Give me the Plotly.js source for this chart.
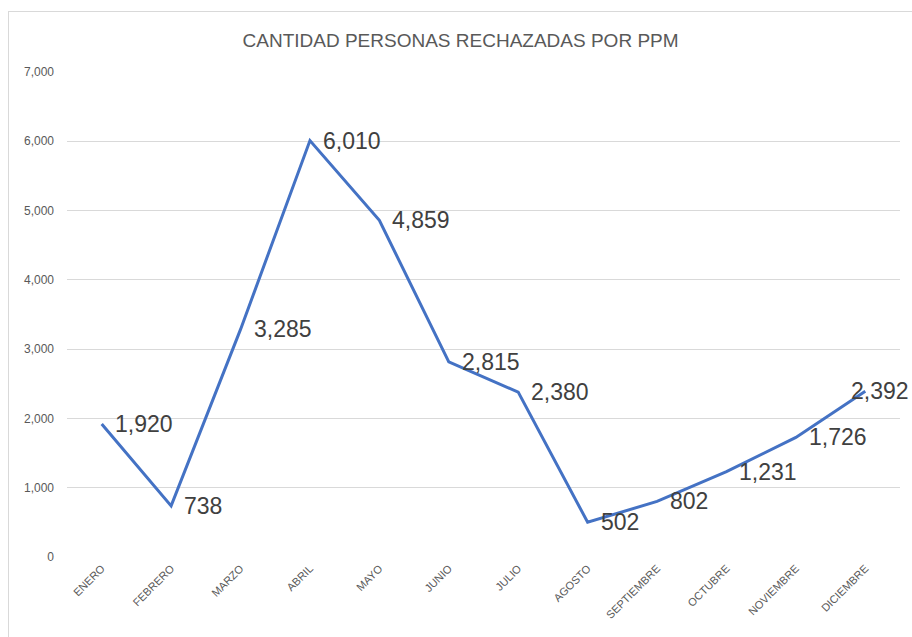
<!DOCTYPE html>
<html>
<head>
<meta charset="utf-8">
<script src="https://cdn.plot.ly/plotly-3.0.1.min.js"></script>
<style>
html,body{margin:0;padding:0;background:#fff;overflow:hidden;}
#frame{position:absolute;left:8px;top:11px;width:930px;height:660px;border:1px solid #d9d9d9;box-sizing:border-box;}
#chart{position:absolute;left:0;top:0;width:912px;height:637px;}
</style>
</head>
<body>
<div id="frame"></div>
<div id="chart"></div>
<script>
const months = ["ENERO","FEBRERO","MARZO","ABRIL","MAYO","JUNIO","JULIO","AGOSTO","SEPTIEMBRE","OCTUBRE","NOVIEMBRE","DICIEMBRE"];
const rejected = [1920, 738, 3285, 6010, 4859, 2815, 2380, 502, 802, 1231, 1726, 2392];
const yTicks = [0, 1000, 2000, 3000, 4000, 5000, 6000, 7000];
const chartTitle = "CANTIDAD PERSONAS RECHAZADAS POR PPM";

const fmt = v => v.toLocaleString("en-US");

const annotations = rejected.map((v, i) => ({
  x: months[i], y: v, xref: "x", yref: "y",
  text: fmt(v), showarrow: false,
  xanchor: "left", yanchor: "middle",
  xshift: i === rejected.length - 1 ? -16 : 11,
  font: {family: "Liberation Sans, Arial, sans-serif", size: 23, color: "#404040"}
}));

const trace = {
  x: months, y: rejected, type: "scatter", mode: "lines",
  line: {color: "#4472C4", width: 3}, hoverinfo: "x+y"
};

const layout = {
  width: 912, height: 637,
  paper_bgcolor: "rgba(0,0,0,0)", plot_bgcolor: "rgba(0,0,0,0)",
  margin: {l: 67, r: 12, t: 72, b: 80},
  showlegend: false,
  title: {text: chartTitle, x: 0.505, xanchor: "center", y: 0.937, yanchor: "middle",
    font: {family: "Liberation Sans Narrow, Arial Narrow, sans-serif", size: 19, color: "#595959"}},
  xaxis: {type: "category", range: [-0.5, 11.5], tickangle: -45, showgrid: false, zeroline: false,
    showline: false, ticks: "", ticklabelstandoff: 2,
    tickfont: {family: "Liberation Sans, Arial, sans-serif", size: 11, color: "#595959"}},
  yaxis: {range: [0, 7000], tickvals: yTicks, ticktext: yTicks.map(fmt), showgrid: true,
    gridcolor: "#d9d9d9", gridwidth: 1, zeroline: false, showline: false, ticks: "",
    ticklabelstandoff: 12,
    tickfont: {family: "Liberation Sans, Arial, sans-serif", size: 12, color: "#595959"}},
  annotations: annotations
};

Plotly.newPlot("chart", [trace], layout, {displayModeBar: false, staticPlot: true});
</script>
</body>
</html>
